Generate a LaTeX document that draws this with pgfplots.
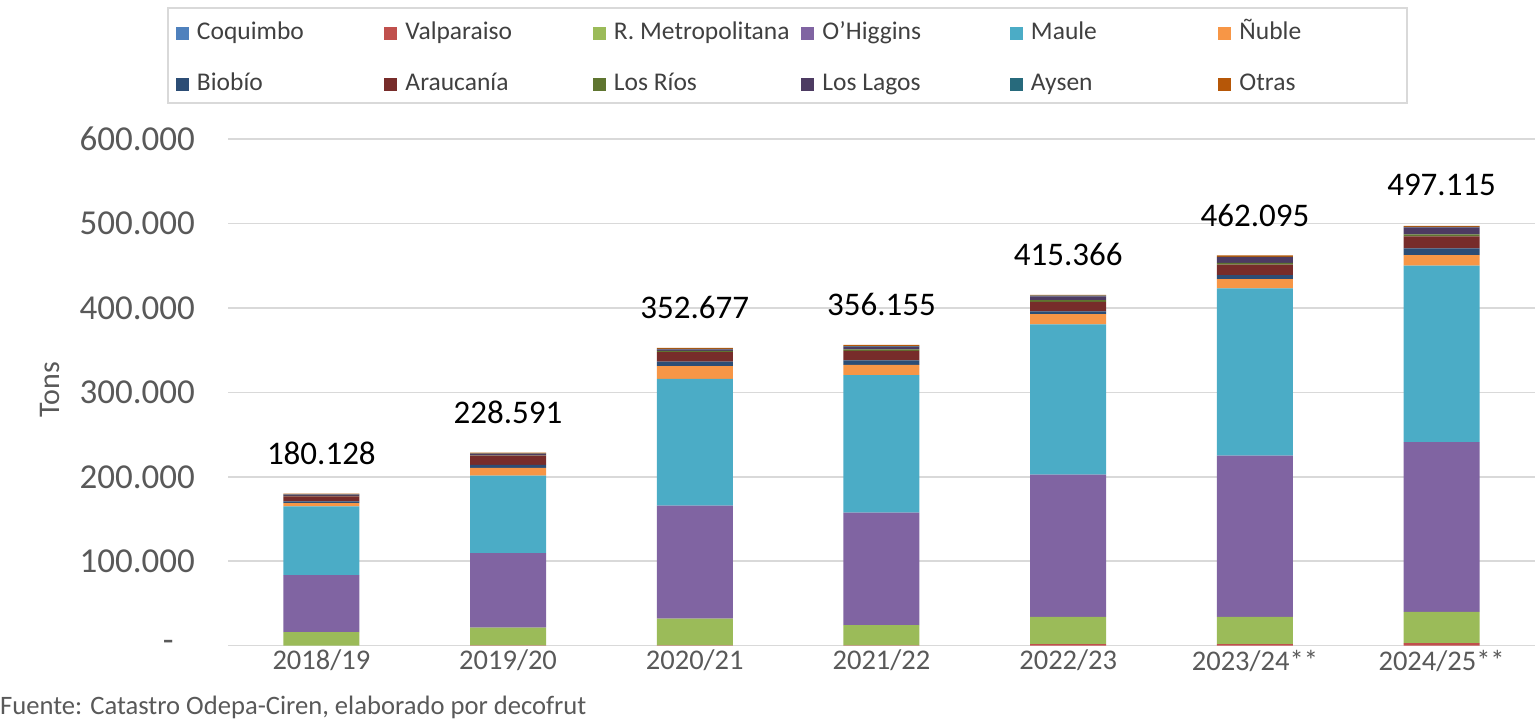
\documentclass[border=0pt]{standalone}
\usepackage{pgfplots}
\pgfplotsset{compat=1.18}
\usepackage{pgfplotstable}
\usepackage{fontspec}
\setmainfont{Carlito}

\definecolor{cCoq}{HTML}{4F81BD}
\definecolor{cVal}{HTML}{C0504D}
\definecolor{cRM}{HTML}{9BBB59}
\definecolor{cOhi}{HTML}{8064A2}
\definecolor{cMau}{HTML}{4BACC6}
\definecolor{cNub}{HTML}{F79646}
\definecolor{cBio}{HTML}{2C4D75}
\definecolor{cAra}{HTML}{772C2A}
\definecolor{cRio}{HTML}{5F7530}
\definecolor{cLag}{HTML}{4D3B62}
\definecolor{cAys}{HTML}{276A7C}
\definecolor{cOtr}{HTML}{B65708}
\definecolor{txtgray}{HTML}{595959}
\definecolor{leggray}{HTML}{404040}
\definecolor{gridgray}{HTML}{D9D9D9}

\pgfplotsset{
  sqlegend/.style={legend image code/.code={\fill[##1] (0bp,-6.5bp) rectangle (13bp,6.5bp);}},
}

\pgfplotstableread{
x coq val rm ohi mau nub bio ara rio lag ays otr lab
0 0 0 16000 67500 81400 4000 2000 6000 500 1500 200 1028 180.128
1 0 500 21000 88000 92000 9000 3500 11000 500 1500 300 1291 228.591
2 0 500 31500 134000 150000 15000 5500 11000 1500 2000 500 1177 352.677
3 0 500 24000 133000 163000 12000 5500 11000 2000 3000 700 1455 356.155
4 0 2000 32000 168500 178000 12000 3500 11000 2200 4500 700 966 415.366
5 0 2000 32000 191000 198000 11000 4700 12600 2000 6700 500 1595 462.095
6 0 3000 37000 201000 209000 12600 7900 14200 2400 8300 500 1215 497.115
}\datatable

\begin{document}
\begin{tikzpicture}
\path[use as bounding box] (0,0) rectangle (1537bp,721bp);
\draw[gridgray, line width=1.2bp] (168bp,618bp) rectangle (1407bp,713bp);
\begin{axis}[
  at={(228bp,75.3bp)}, anchor=south west,
  scale only axis, width=1307bp, height=506.7bp,
  ybar stacked, bar width=76bp,
  xmin=-0.5, xmax=6.5, ymin=0, ymax=600000,
  enlargelimits=false,
  scaled y ticks=false,
  xtick={0,1,2,3,4,5,6},
  xticklabels={2018/19,2019/20,2020/21,2021/22,2022/23,2023/24**,2024/25**},
  ytick={0,100000,200000,300000,400000,500000,600000},
  yticklabels={\makebox[32bp][l]{-},100.000,200.000,300.000,400.000,500.000,600.000},
  ymajorgrids, grid style={draw=gridgray, line width=1.5bp},
  axis line style={draw=none},
  major tick length=0pt,
  xticklabel style={font=\fontsize{28.5bp}{33bp}\selectfont, color=txtgray, anchor=north, inner sep=0pt, yshift=-4bp},
  yticklabel style={font=\fontsize{35bp}{41bp}\selectfont, color=txtgray, anchor=east, inner sep=0pt, xshift=-33bp},
  ylabel={Tons},
  every axis y label/.style={at={(axis description cs:-0.1362,0.505)}, rotate=90, anchor=center, font=\fontsize{30bp}{36bp}\selectfont, color=txtgray},
  legend columns=6,
  legend style={at={(axis description cs:-0.03979,1.2309)}, anchor=north west, draw=none, fill=none,
    column sep=8bp, row sep=29bp, inner sep=0pt, outer sep=0pt,
    font=\fontsize{25.5bp}{30bp}\selectfont, text=leggray,
    nodes={inner sep=0pt, text height=17bp, text depth=5bp}},
]
\addplot[fill=cCoq, draw=none, sqlegend] table[x=x, y=coq] {\datatable};
\addlegendentry{\makebox[179.5bp][l]{Coquimbo}}
\addplot[fill=cVal, draw=none, sqlegend] table[x=x, y=val] {\datatable};
\addlegendentry{\makebox[179.5bp][l]{Valparaiso}}
\addplot[fill=cRM, draw=none, sqlegend] table[x=x, y=rm] {\datatable};
\addlegendentry{\makebox[179.5bp][l]{R. Metropolitana}}
\addplot[fill=cOhi, draw=none, sqlegend] table[x=x, y=ohi] {\datatable};
\addlegendentry{\makebox[179.5bp][l]{O'Higgins}}
\addplot[fill=cMau, draw=none, sqlegend] table[x=x, y=mau] {\datatable};
\addlegendentry{\makebox[179.5bp][l]{Maule}}
\addplot[fill=cNub, draw=none, sqlegend] table[x=x, y=nub] {\datatable};
\addlegendentry{\makebox[165.5bp][l]{Ñuble}}
\addplot[fill=cBio, draw=none, sqlegend] table[x=x, y=bio] {\datatable};
\addlegendentry{\makebox[179.5bp][l]{Biobío}}
\addplot[fill=cAra, draw=none, sqlegend] table[x=x, y=ara] {\datatable};
\addlegendentry{\makebox[179.5bp][l]{Araucanía}}
\addplot[fill=cRio, draw=none, sqlegend] table[x=x, y=rio] {\datatable};
\addlegendentry{\makebox[179.5bp][l]{Los Ríos}}
\addplot[fill=cLag, draw=none, sqlegend] table[x=x, y=lag] {\datatable};
\addlegendentry{\makebox[179.5bp][l]{Los Lagos}}
\addplot[fill=cAys, draw=none, sqlegend] table[x=x, y=ays] {\datatable};
\addlegendentry{\makebox[179.5bp][l]{Aysen}}
\addplot[fill=cOtr, draw=none, sqlegend, nodes near coords, point meta=explicit symbolic,
  every node near coord/.append style={anchor=center, yshift=41bp, font=\fontsize{33bp}{40bp}\selectfont, color=black}]
  table[x=x, y=otr, meta=lab] {\datatable};
\addlegendentry{\makebox[165.5bp][l]{Otras}}
\end{axis}
\node[anchor=west, inner sep=0pt, font=\fontsize{26.6bp}{31bp}\selectfont, color=txtgray] at (0bp,14bp) {Fuente: Catastro Odepa-Ciren, elaborado por decofrut};
\end{tikzpicture}
\end{document}
